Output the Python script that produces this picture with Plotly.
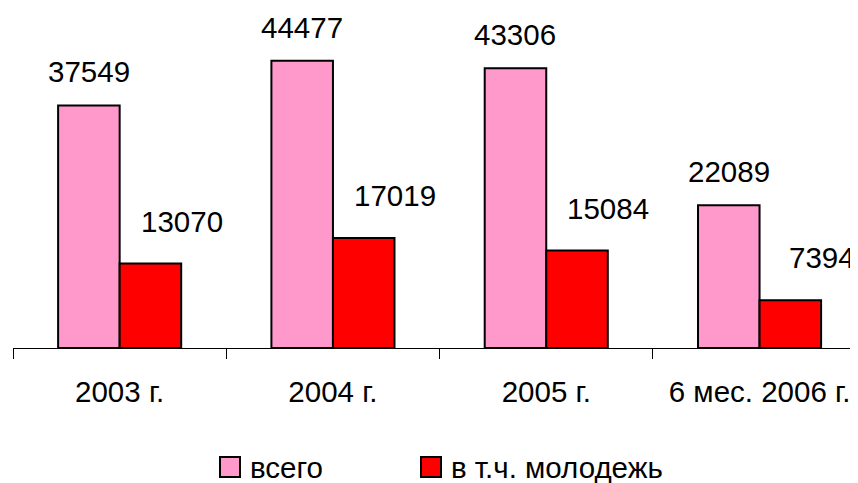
import plotly.graph_objects as go

categories = ["2003 г.", "2004 г.", "2005 г.", "6 мес. 2006 г."]
total_values = [37549, 44477, 43306, 22089]
youth_values = [13070, 17019, 15084, 7394]
series_names = ["всего", "в т.ч. молодежь"]

# page has an 8px body margin, so the figure is drawn 8px in from the corner
W, H = 850, 475
ML, MR, MT, MB = 5, 0, 17, 135
FONT = "Liberation Sans, Arial, sans-serif"
FS = 29.5
PINK = "#FF99CC"
RED = "#FF0000"

plot_w = W - ML - MR
plot_h = H - MT - MB


def px_x(px):
    return (px - ML) / plot_w


def px_y(py):
    return (H - MB - py) / plot_h


fig = go.Figure()
fig.add_trace(go.Bar(x=categories, y=total_values, name=series_names[0],
                     marker=dict(color=PINK, line=dict(color="black", width=2)),
                     showlegend=False))
fig.add_trace(go.Bar(x=categories, y=youth_values, name=series_names[1],
                     marker=dict(color=RED, line=dict(color="black", width=2)),
                     showlegend=False))

annotations = []
for c, v in zip(categories, total_values):
    annotations.append(dict(x=c, y=v, xref="x", yref="y", text=str(v), showarrow=False,
                            xanchor="center", yanchor="bottom", xshift=-31, yshift=15,
                            font=dict(family=FONT, size=FS, color="black")))
for c, v in zip(categories, youth_values):
    annotations.append(dict(x=c, y=v, xref="x", yref="y", text=str(v), showarrow=False,
                            xanchor="center", yanchor="bottom", xshift=62, yshift=24,
                            font=dict(family=FONT, size=FS, color="black")))

# legend drawn manually (larger swatches than plotly's built-in legend)
shapes = []
legend_items = [(series_names[0], PINK, 212), (series_names[1], RED, 413)]
for name, col, x0 in legend_items:
    shapes.append(dict(type="rect", xref="paper", yref="paper",
                       x0=px_x(x0), x1=px_x(x0 + 20), y0=px_y(469), y1=px_y(449),
                       fillcolor=col, line=dict(color="black", width=2)))
    annotations.append(dict(x=px_x(x0 + 28), y=px_y(459), xref="paper", yref="paper",
                            text=name, showarrow=False, xanchor="left", yanchor="middle",
                            font=dict(family=FONT, size=FS, color="black")))

fig.update_layout(
    width=W, height=H,
    margin=dict(l=ML, r=MR, t=MT, b=MB),
    paper_bgcolor="white", plot_bgcolor="white",
    barmode="group", bargap=0.423, bargroupgap=0,
    font=dict(family=FONT, size=FS, color="black"),
    annotations=annotations, shapes=shapes,
    xaxis=dict(type="category", range=[-0.5, -0.5 + plot_w / 213.3],
               showline=True, linecolor="black", linewidth=1,
               ticks="outside", ticklen=10, tickcolor="black", tickwidth=1,
               tickson="boundaries", showgrid=False,
               tickfont=dict(family=FONT, size=FS, color="black"),
               ticklabelstandoff=18),
    yaxis=dict(range=[0, 50000], visible=False, showgrid=False, zeroline=False),
    showlegend=False,
)

fig.write_html("out.html")
